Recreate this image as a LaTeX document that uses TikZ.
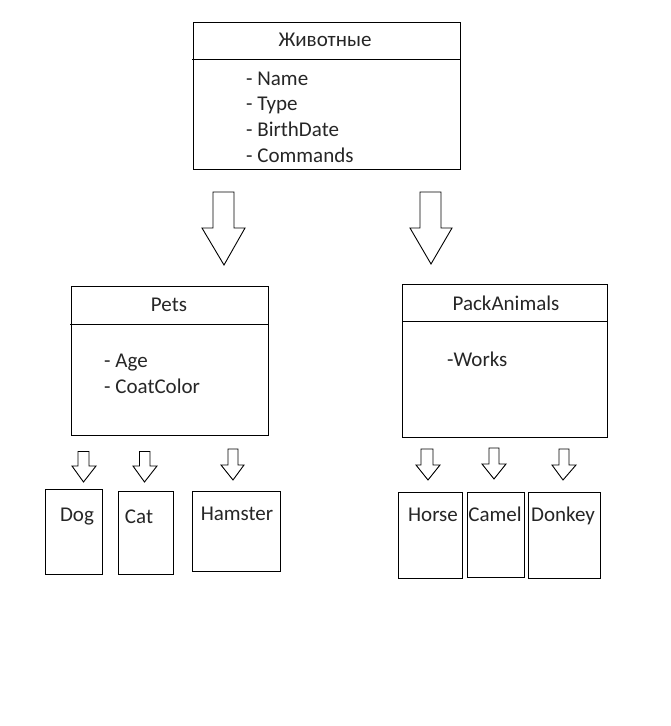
\documentclass[tikz,border=0pt]{standalone}
\usepackage{fontspec}
\setmainfont{Carlito}
\newcommand\blockarr[8]{\draw[barrow] (#1,#3) -- (#2,#3) -- (#2,#4) -- (#6,#4) -- (#7,#8) -- (#5,#4) -- (#1,#4) -- cycle;}
\begin{document}
\begin{tikzpicture}[x=1pt,y=-1pt,
  box/.style={draw, line width=1.1pt, inner sep=0pt, anchor=north west},
  divider/.style={line width=1pt},
  lbl/.style={font=\fontsize{21}{25.5}\selectfont, inner sep=0pt, text=black!85},
  barrow/.style={draw, line width=0.9pt, fill=white, line join=miter}]
\useasboundingbox[fill=white] (0,0) rectangle (671,726);

% class boxes
\node[box, minimum width=267pt, minimum height=147pt] (animals) at (193,22) {};
\draw[divider] (192,59) -- (animals.east |- 0,59);
\node[box, minimum width=197pt, minimum height=149pt] (pets) at (71,286) {};
\draw[divider] (70,324) -- (pets.east |- 0,324);
\node[box, minimum width=205pt, minimum height=153pt] (pack) at (402,284) {};
\draw[divider] (pack.west |- 0,321) -- (pack.east |- 0,321);

% leaf boxes
\node[box, minimum width=57pt, minimum height=85pt] (dog) at (45,489) {};
\node[box, minimum width=55pt, minimum height=83pt] (cat) at (118,491) {};
\node[box, minimum width=88pt, minimum height=80pt] (hamster) at (192,491) {};
\node[box, minimum width=64pt, minimum height=86pt] (horse) at (398,492) {};
\node[box, minimum width=57pt, minimum height=85pt] (camel) at (467,492) {};
\node[box, minimum width=72pt, minimum height=86pt] (donkey) at (528,492) {};

% texts
\node[lbl, anchor=base] (tAnimals) at (325,46.5) {Животные};
\node[lbl, anchor=base west] (tName) at (246,85) {- Name};
\node[lbl, anchor=base west] (tType) at (246,110.7) {- Type};
\node[lbl, anchor=base west] (tBirth) at (246,136.4) {- BirthDate};
\node[lbl, anchor=base west] (tCmd) at (246,162) {- Commands};

\node[lbl, anchor=base] (tPets) at (169,311.5) {Pets};
\node[lbl, anchor=base west] (tAge) at (104,367.5) {- Age};
\node[lbl, anchor=base west] (tCoat) at (104,393.5) {- CoatColor};

\node[lbl, anchor=base] (tPack) at (506,310.5) {PackAnimals};
\node[lbl, anchor=base west] (tWorks) at (447,366.5) {-Works};

\node[lbl, anchor=base] (tDog) at (77,521.5) {Dog};
\node[lbl, anchor=base] (tCat) at (139,523.5) {Cat};
\node[lbl, anchor=base] (tHam) at (237,520.5) {Hamster};
\node[lbl, anchor=base] (tHorse) at (433,521.5) {Horse};
\node[lbl, anchor=base] (tCamel) at (495,521.5) {Camel};
\node[lbl, anchor=base] (tDonkey) at (563,521.5) {Donkey};

% block arrows
\blockarr{213}{234}{192}{228}{202}{245}{224}{265}
\blockarr{420}{441}{192}{228}{410}{452}{431}{264}
\blockarr{78}{89}{451.5}{466}{72}{96}{83.5}{482}
\blockarr{139.5}{150}{451.5}{466}{133}{157}{144.5}{482}
\blockarr{228}{238}{449}{465}{221}{244}{233}{480}
\blockarr{421}{433}{449}{465}{416}{440}{428}{480}
\blockarr{489}{499}{448}{464}{482}{506}{494}{479}
\blockarr{559}{569}{449}{465}{552}{576}{563}{480}
\end{tikzpicture}
\end{document}
